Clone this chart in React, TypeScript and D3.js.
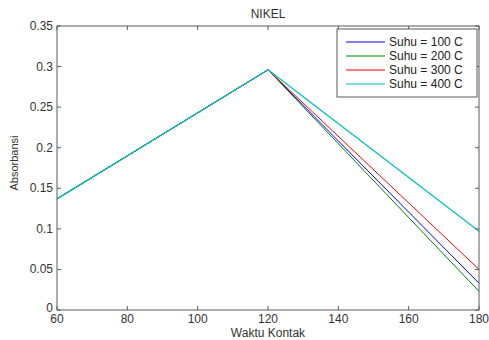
import * as d3 from 'd3';

const waktu = [60, 120, 180];
const suhuLabels = ['Suhu = 100 C', 'Suhu = 200 C', 'Suhu = 300 C', 'Suhu = 400 C'];
const suhu100 = [0.137, 0.296, 0.033];
const suhu200 = [0.137, 0.296, 0.023];
const suhu300 = [0.137, 0.296, 0.050];
const suhu400 = [0.137, 0.296, 0.097];
const colors = ['#0000ff', '#008000', '#ff0000', '#00bfbf'];
const xTicks = [60, 80, 100, 120, 140, 160, 180];
const yTicks = [0, 0.05, 0.1, 0.15, 0.2, 0.25, 0.3, 0.35];

export default function App() {
  const W = 489, H = 340;
  const m = { left: 57, right: 10, top: 26, bottom: 30 };
  const x = d3.scaleLinear().domain([60, 180]).range([m.left, W - m.right]);
  const y = d3.scaleLinear().domain([0, 0.35]).range([H - m.bottom, m.top]);
  const series = [suhu100, suhu200, suhu300, suhu400];
  const line = d3.line<number>().x((_, i) => x(waktu[i])).y(d => y(d));
  const axis = '#5a5a5a';
  const font = 'Liberation Sans, Arial, sans-serif';
  const tl = 4;
  const x0 = x(60), x1 = x(180), y0 = y(0), y1 = y(0.35);

  return (
    <svg width={W} height={H} style={{ position: 'absolute', left: 0, top: 0, background: '#fff' }} fontFamily={font}>
      <rect x={0} y={0} width={W} height={H} fill="#fff" />
      {series.map((s, i) => (
        <path key={i} d={line(s) || ''} fill="none" stroke={colors[i]} strokeWidth={i === 3 ? 1.3 : 1} />
      ))}
      <rect x={x0} y={y1} width={x1 - x0} height={y0 - y1} fill="none" stroke={axis} strokeWidth={1} />
      {xTicks.map(t => (
        <g key={t}>
          <line x1={x(t)} x2={x(t)} y1={y0} y2={y0 - tl} stroke={axis} />
          <line x1={x(t)} x2={x(t)} y1={y1} y2={y1 + tl} stroke={axis} />
          <text x={x(t)} y={y0 + 13} textAnchor="middle" fontSize={12} fill="#333">{t}</text>
        </g>
      ))}
      {yTicks.map(t => (
        <g key={t}>
          <line x1={x0} x2={x0 + tl} y1={y(t)} y2={y(t)} stroke={axis} />
          <line x1={x1} x2={x1 - tl} y1={y(t)} y2={y(t)} stroke={axis} />
          <text x={x0 - 4} y={y(t) + (t === 0 ? 2 : 4)} textAnchor="end" fontSize={12} fill="#333">{t}</text>
        </g>
      ))}
      <text x={(x0 + x1) / 2} y={18} textAnchor="middle" fontSize={12} fill="#333">NIKEL</text>
      <text x={(x0 + x1) / 2} y={337} textAnchor="middle" fontSize={12} fill="#333">Waktu Kontak</text>
      <text transform={`translate(18,163) rotate(-90)`} textAnchor="middle" fontSize={11} fill="#333">Absorbansi</text>
      <g>
        <rect x={337} y={29} width={140} height={68} fill="#fff" stroke={axis} />
        {suhuLabels.map((lab, i) => (
          <g key={lab}>
            <line x1={346} x2={385} y1={42 + i * 14} y2={42 + i * 14} stroke={colors[i]} />
            <text x={389} y={46 + i * 14} fontSize={12} fill="#222">{lab}</text>
          </g>
        ))}
      </g>
    </svg>
  );
}
